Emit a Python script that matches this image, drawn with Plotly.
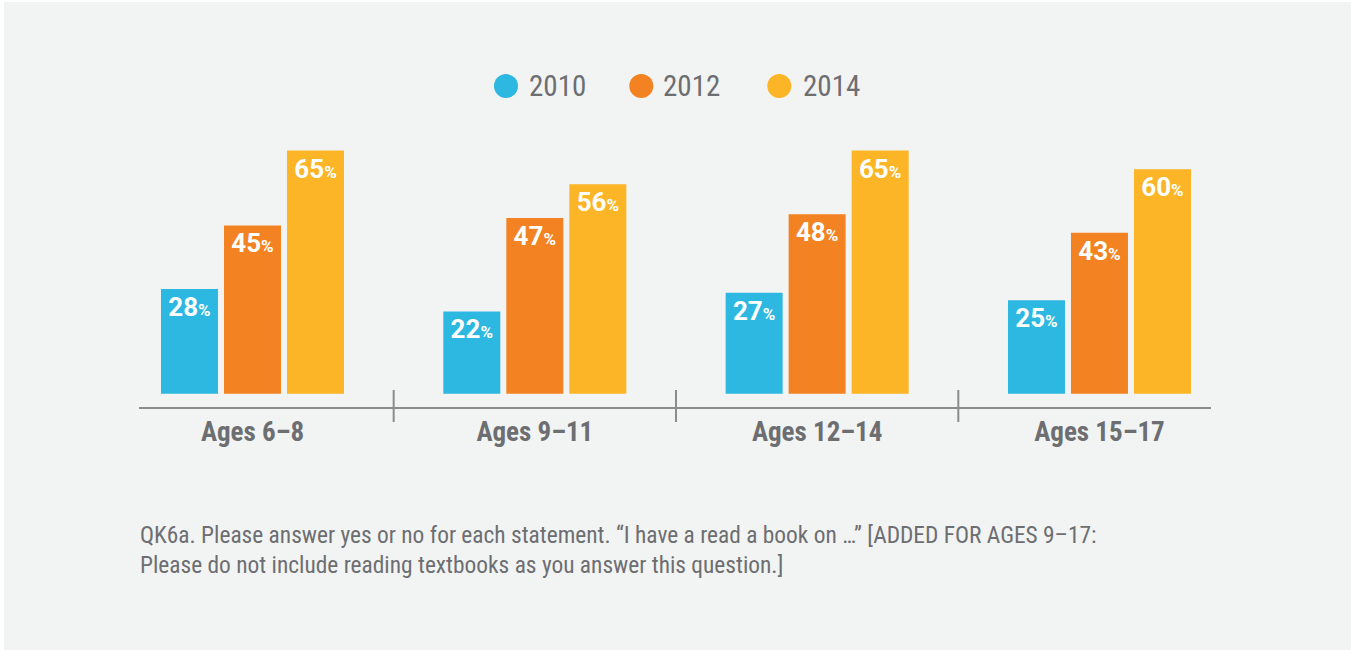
import plotly.graph_objects as go

# ---------------- data ----------------
categories = ["Ages 6–8", "Ages 9–11", "Ages 12–14", "Ages 15–17"]
series_names = ["2010", "2012", "2014"]
values_2010 = [28, 22, 27, 25]
values_2012 = [45, 47, 48, 43]
values_2014 = [65, 56, 65, 60]
series_values = [values_2010, values_2012, values_2014]
colors = ["#2db8e1", "#f38322", "#fcb526"]
footnote_lines = [
    "QK6a. Please answer yes or no for each statement. “I have a read a book on …” [ADDED FOR AGES 9–17:",
    "Please do not include reading textbooks as you answer this question.]",
]

# ---------------- layout geometry ----------------
W, H = 1351, 650
ML, MR, MT, MB = 139, 140, 140, 243
PW, PH = W - ML - MR, H - MT - MB
BG = "#f2f4f3"
TXT = "#6d6e71"
NARROW = "Liberation Sans Narrow, Arial Narrow, Roboto Condensed, Roboto, sans-serif"


def px(x):
    return (x - ML) / PW


def py(y):
    return (H - MB - y) / PH


def label(v):
    return f"<b>{v}<span style='font-size:17px'>%</span></b>"


fig = go.Figure()
for name, vals, col in zip(series_names, series_values, colors):
    fig.add_trace(go.Bar(
        name=name,
        x=categories,
        y=vals,
        marker=dict(color=col, line=dict(width=0)),
        text=[label(v) for v in vals],
        textposition="inside",
        insidetextanchor="end",
        textangle=0,
        textfont=dict(family="Roboto, sans-serif", size=26, color="white"),
        hoverinfo="skip",
        showlegend=False,
    ))

shapes = [
    # background panel with thin white margin
    dict(type="rect", xref="paper", yref="paper", x0=px(4), x1=px(W + 2),
         y0=py(2), y1=py(H + 2), fillcolor=BG, line=dict(width=0), layer="below"),
]
# group dividers between categories
for i in range(len(categories) - 1):
    shapes.append(dict(type="line", xref="x", yref="paper", x0=i + 0.5, x1=i + 0.5,
                       y0=py(390), y1=py(422), line=dict(color="#8a8b8c", width=2)))

annotations = []
# custom legend with circles
legend_centers = [506, 641.3, 779.3]
legend_text_x = [529.3, 663.3, 802.7]
LY = 86
R = 12
for name, col, cx, tx in zip(series_names, colors, legend_centers, legend_text_x):
    shapes.append(dict(type="circle", xref="paper", yref="paper",
                       x0=px(cx - R), x1=px(cx + R), y0=py(LY + R), y1=py(LY - R),
                       fillcolor=col, line=dict(width=0)))
    annotations.append(dict(xref="paper", yref="paper", x=px(tx - 2), y=py(LY),
                            xanchor="left", yanchor="middle", showarrow=False,
                            text=name, font=dict(family=NARROW, size=29, color=TXT)))

annotations.append(dict(xref="paper", yref="paper", x=px(138), y=py(519),
                        xanchor="left", yanchor="top", align="left", showarrow=False,
                        text="<br>".join(footnote_lines),
                        font=dict(family=NARROW, size=23.4, color=TXT)))

fig.update_layout(
    width=W, height=H,
    margin=dict(l=ML, r=MR, t=MT, b=MB, pad=0),
    paper_bgcolor="white",
    plot_bgcolor="rgba(0,0,0,0)",
    barmode="group",
    bargap=0.3305,
    bargroupgap=0.0952,
    showlegend=False,
    shapes=shapes,
    annotations=annotations,
    xaxis=dict(
        type="category",
        range=[-0.402, 3.395],
        showline=True, linecolor="#8a8b8c", linewidth=2,
        ticks="", showgrid=False, zeroline=False,
        tickfont=dict(family=NARROW, size=27, color=TXT, weight="bold"),
        fixedrange=True,
    ),
    yaxis=dict(
        range=[-3.56, 67.83],
        visible=False, showgrid=False, zeroline=False, fixedrange=True,
    ),
)

fig.write_html("out.html", config={"displayModeBar": False},
               post_script="document.body.style.margin='0px';")
